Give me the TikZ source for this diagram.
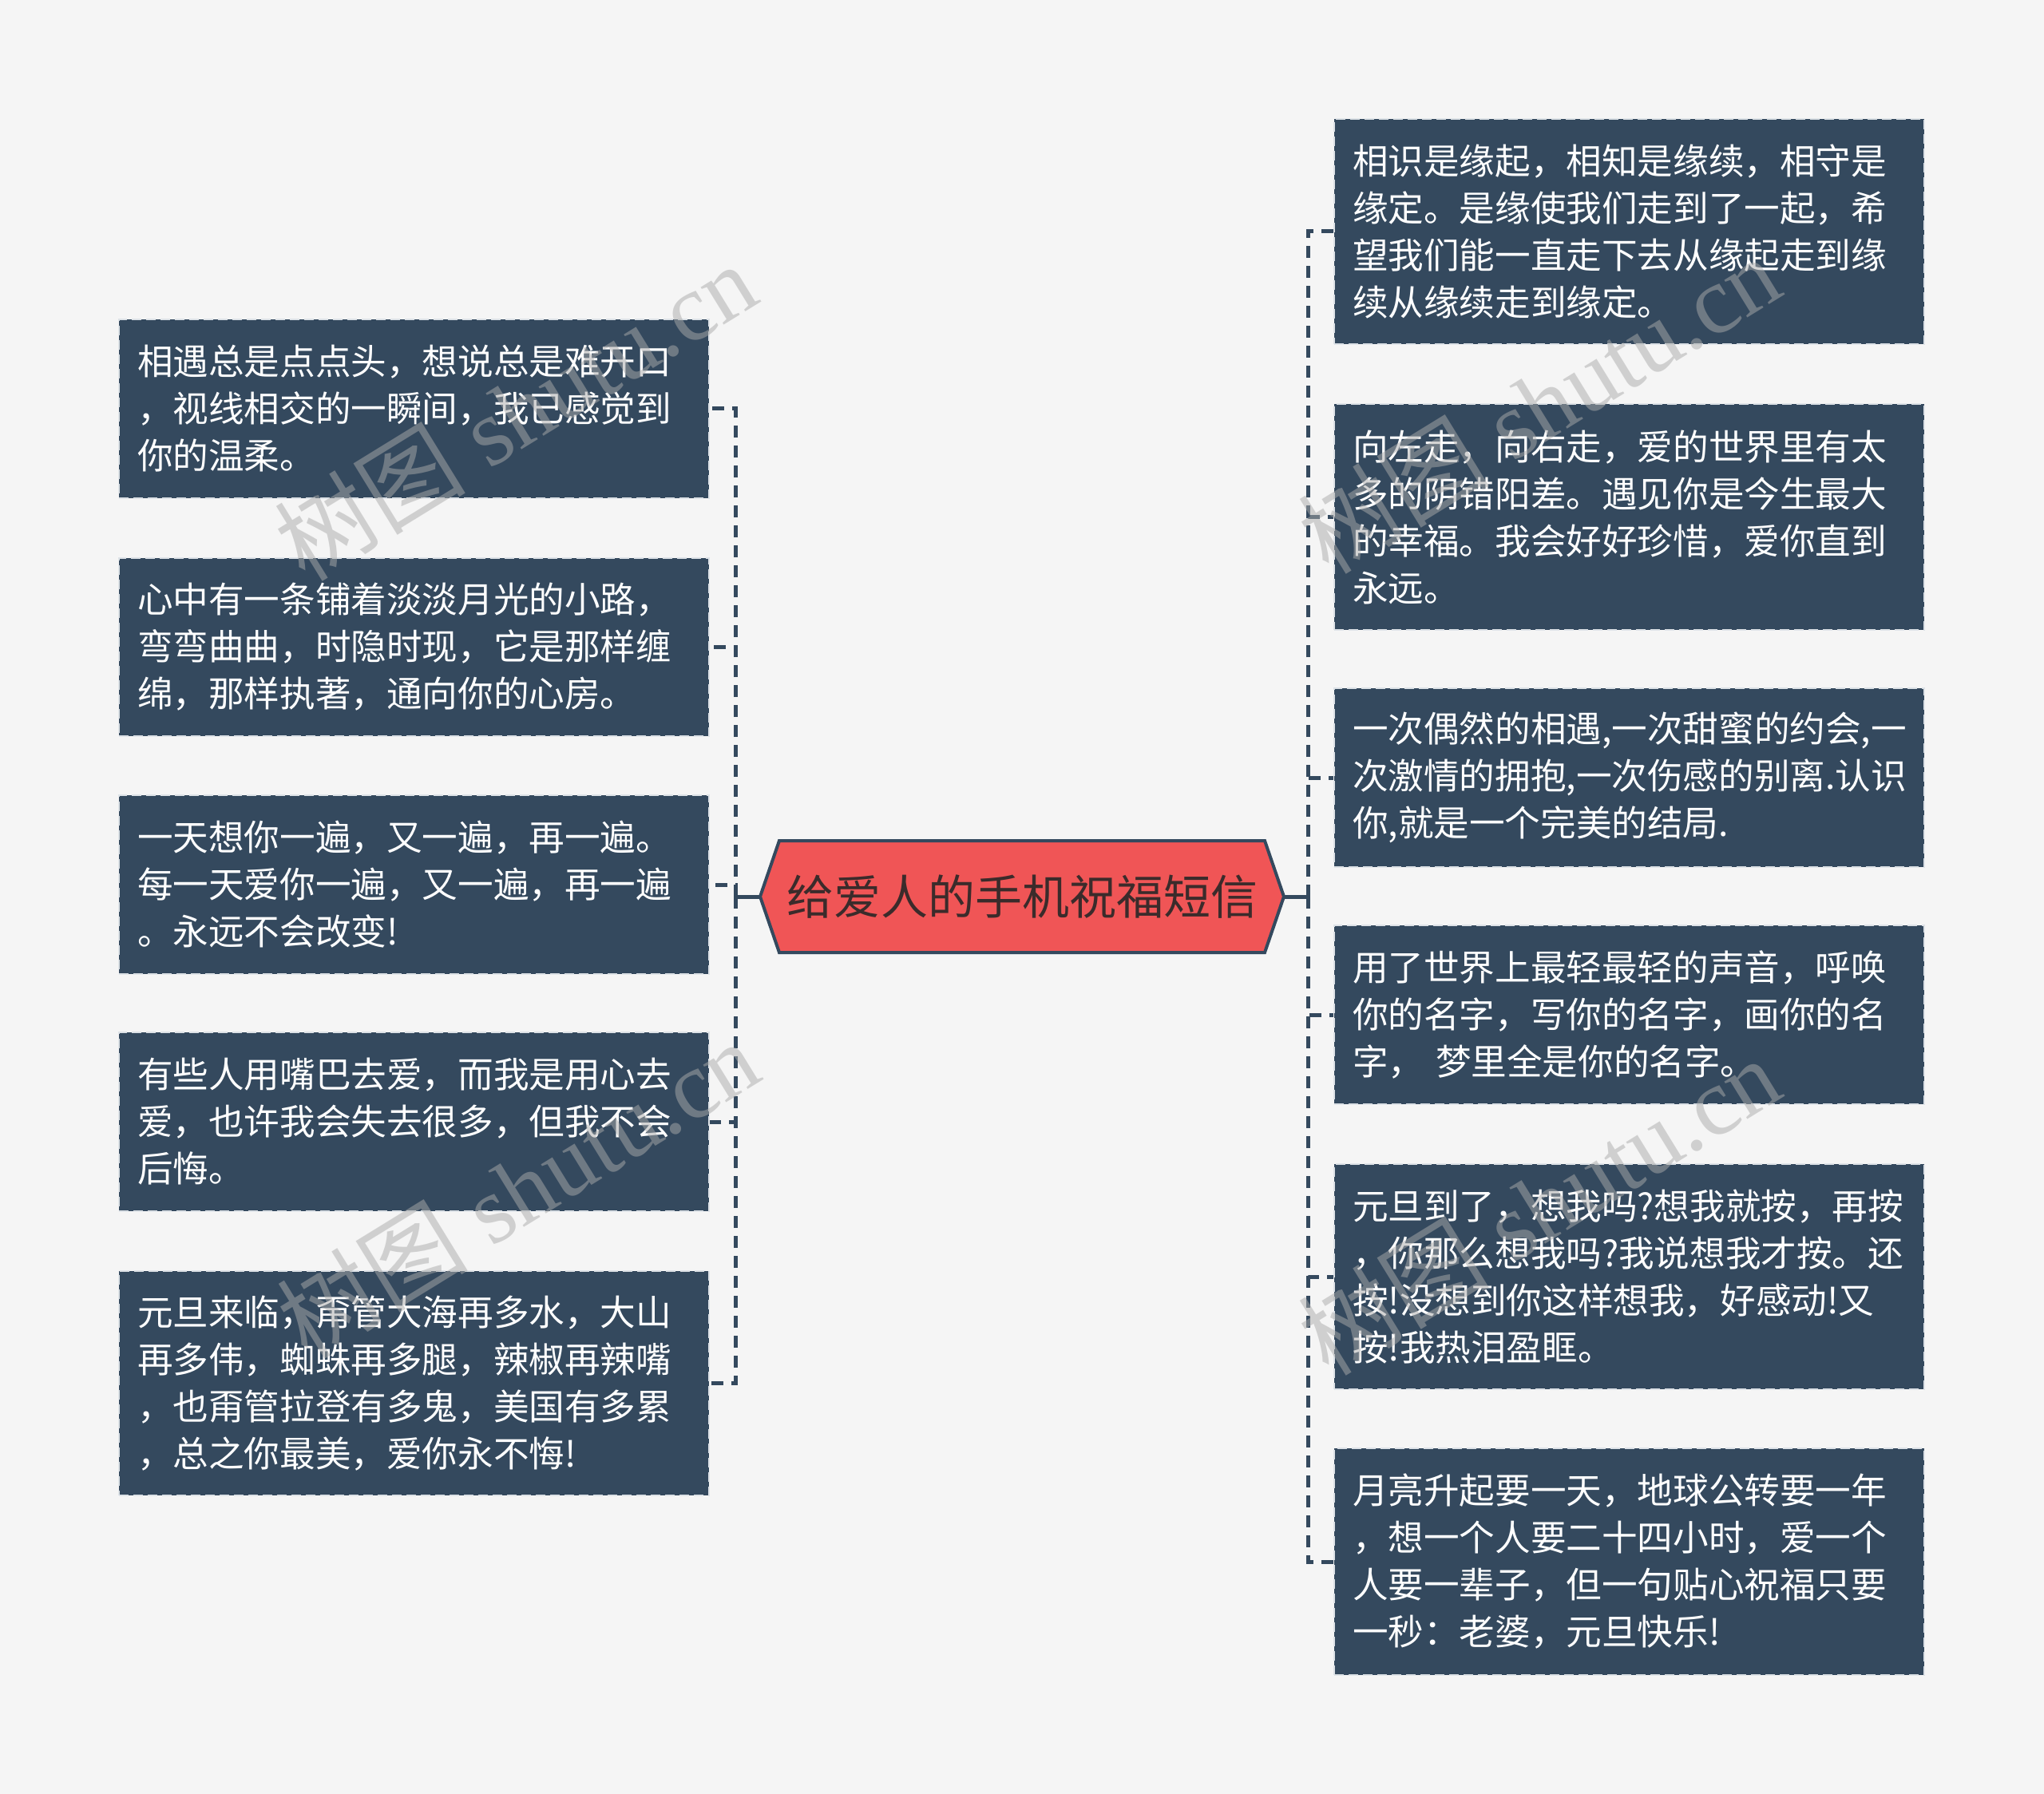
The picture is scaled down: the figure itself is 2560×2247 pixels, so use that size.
\documentclass[tikz,border=0pt]{standalone}
\usepackage{fontspec}
\newfontfamily\cjk{Noto Sans CJK SC}
\newfontfamily\wmlatin{Liberation Serif}
\definecolor{bgc}{HTML}{F5F5F5}
\definecolor{boxc}{HTML}{34495E}
\definecolor{edgec}{HTML}{DDE2E7}
\definecolor{rootc}{HTML}{F05556}
\definecolor{roottext}{HTML}{3B2B2B}
\definecolor{wmc}{HTML}{ABABAB}
\tikzset{
  leafbox/.style={fill=boxc, draw=edgec, line width=1pt, dash pattern=on 6pt off 3pt,
    text=white, font=\cjk\fontsize{22.3}{29.5}\selectfont, align=left,
    text width=346.5pt, inner xsep=11.5pt, inner ysep=0pt, minimum width=369.5pt},
  conn/.style={draw=boxc, line width=2.5pt, dash pattern=on 7.5pt off 5pt},
  trunk/.style={draw=boxc, line width=2.5pt},
  hexa/.style={fill=rootc, draw=boxc, line width=2pt, line join=miter},
  wmark/.style={text=wmc, opacity=0.5, font=\wmlatin\fontsize{60}{60}\selectfont, rotate=31.6, inner sep=0pt}
}
\begin{document}
\begin{tikzpicture}[x=0.5pt,y=-0.5pt]
\useasboundingbox (0,0) rectangle (2560,2247);
\fill[bgc] (0,0) rectangle (2560,2247);

% root hexagon
\draw[hexa] (952,1123) -- (976,1053) -- (1584,1053) -- (1608,1123) -- (1584,1193) -- (976,1193) -- cycle;
\node[inner sep=0pt, minimum width=328pt, minimum height=70pt, text=roottext,
  font=\cjk\fontsize{29.5}{35}\selectfont] (root) at (1280,1123) {给爱人的手机祝福短信};

\coordinate (lj) at (921,1123);
\coordinate (rj) at (1638,1123);

% left boxes
\node[leafbox, minimum height=112pt] (L1) at (518.5,512) {相遇总是点点头，想说总是难开口\\，视线相交的一瞬间，我已感觉到\\你的温柔。};
\node[leafbox, minimum height=111.5pt] (L2) at (518.5,810.5) {心中有一条铺着淡淡月光的小路，\\弯弯曲曲，时隐时现，它是那样缠\\绵，那样执著，通向你的心房。};
\node[leafbox, minimum height=112pt] (L3) at (518.5,1108) {一天想你一遍，又一遍，再一遍。\\每一天爱你一遍，又一遍，再一遍\\。永远不会改变!};
\node[leafbox, minimum height=112pt] (L4) at (518.5,1405) {有些人用嘴巴去爱，而我是用心去\\爱，也许我会失去很多，但我不会\\后悔。};
\node[leafbox, minimum height=140.5pt] (L5) at (518.5,1732.5) {元旦来临，甭管大海再多水，大山\\再多伟，蜘蛛再多腿，辣椒再辣嘴\\，也甭管拉登有多鬼，美国有多累\\，总之你最美，爱你永不悔!};

% right boxes
\node[leafbox, minimum height=141pt] (R1) at (2040.5,290) {相识是缘起，相知是缘续，相守是\\缘定。是缘使我们走到了一起，希\\望我们能一直走下去从缘起走到缘\\续从缘续走到缘定。};
\node[leafbox, minimum height=141.5pt] (R2) at (2040.5,647.5) {向左走，向右走，爱的世界里有太\\多的阴错阳差。遇见你是今生最大\\的幸福。我会好好珍惜，爱你直到\\永远。};
\node[leafbox, minimum height=112pt] (R3) at (2040.5,974) {一次偶然的相遇,一次甜蜜的约会,一\\次激情的拥抱,一次伤感的别离.认识\\你,就是一个完美的结局.};
\node[leafbox, minimum height=112pt] (R4) at (2040.5,1271) {用了世界上最轻最轻的声音，呼唤\\你的名字，写你的名字，画你的名\\字， 梦里全是你的名字。};
\node[leafbox, minimum height=141pt] (R5) at (2040.5,1599) {元旦到了，想我吗?想我就按，再按\\，你那么想我吗?我说想我才按。还\\按!没想到你这样想我，好感动!又\\按!我热泪盈眶。};
\node[leafbox, minimum height=142pt] (R6) at (2040.5,1956) {月亮升起要一天，地球公转要一年\\，想一个人要二十四小时，爱一个\\人要一辈子，但一句贴心祝福只要\\一秒：老婆，元旦快乐!};

% connectors
\draw[trunk] (root.west) -- (lj);
\draw[trunk] (root.east) -- (rj);
\foreach \b in {L1,L2,L3,L4,L5}{
  \draw[conn] (lj) -- (lj |- \b.east) -- (\b.east);
}
\foreach \b in {R1,R2,R3,R4,R5,R6}{
  \draw[conn] (rj) -- (rj |- \b.west) -- (\b.west);
}

% watermarks
\node[wmark] (wm1) at (645,515) {{\cjk 树图} shutu.cn};
\node[wmark] (wm2) at (1927,506) {{\cjk 树图} shutu.cn};
\node[wmark] (wm3) at (648,1489) {{\cjk 树图} shutu.cn};
\node[wmark] (wm4) at (1927,1510) {{\cjk 树图} shutu.cn};
\end{tikzpicture}
\end{document}
